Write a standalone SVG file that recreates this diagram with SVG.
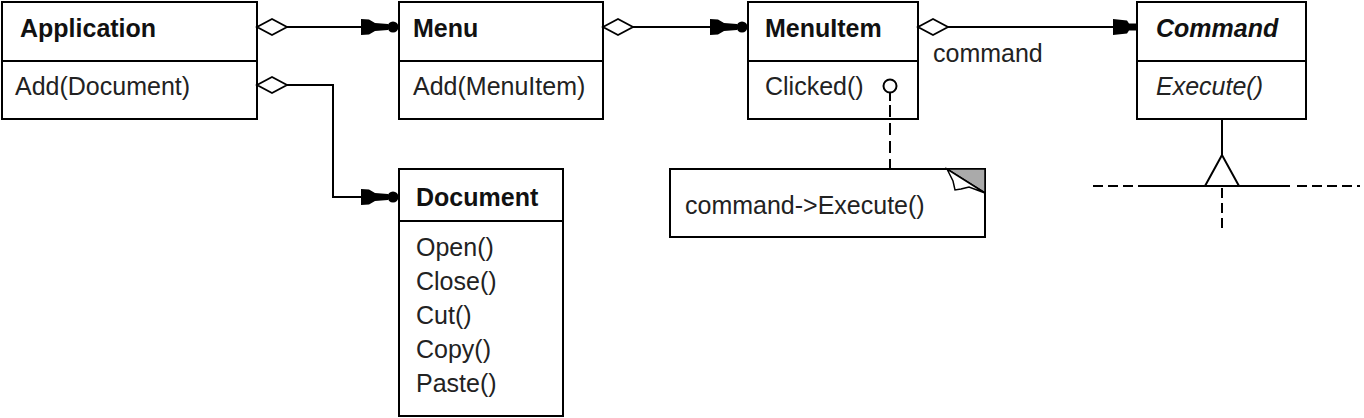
<svg xmlns="http://www.w3.org/2000/svg" xmlns:xlink="http://www.w3.org/1999/xlink" width="1364" height="418" viewBox="0 0 1364 418">
<style>
.box{fill:#fff;stroke:#000;stroke-width:2}
.div{stroke:#000;stroke-width:2}
.t{font-family:"Liberation Sans",Arial,sans-serif;font-size:25px;fill:#222}
.b{font-weight:bold;fill:#111}
.i{font-style:italic}
.ln{fill:none;stroke:#000;stroke-width:2}
.dash{fill:none;stroke:#000;stroke-width:2;stroke-dasharray:10,5}
.dia{fill:#fff;stroke:#000;stroke-width:1.8}
</style>
<defs>
<path id="dia" class="dia" d="M0,0 L15,-8 L30,0 L15,8 Z"/>
<g id="arrowDot">
<path d="M-38,-8 L-30,-7.5 L-24,-4 L-11,-3 L-11,3 L-24,4 L-30,7.5 L-38,8 Z" fill="#000"/>
<circle cx="-6" cy="0" r="5.5" fill="#000"/>
</g>
<path id="arrow" d="M-24,-8 L-10,-6.5 L-8,-3.5 L0,-3.5 L0,3.5 L-8,3.5 L-10,6.5 L-24,8 Z" fill="#000"/>
</defs>
<rect width="1364" height="418" fill="#fff"/>

<g id="Application">
<rect class="box" x="2" y="2" width="255" height="117"/>
<line class="div" x1="2" y1="61" x2="257" y2="61"/>
<text class="t b" x="20" y="37">Application</text>
<text class="t" x="15" y="95">Add(Document)</text>
</g>

<g id="Menu">
<rect class="box" x="399" y="2" width="204" height="117"/>
<line class="div" x1="399" y1="61" x2="603" y2="61"/>
<text class="t b" x="413" y="37">Menu</text>
<text class="t" x="413" y="95">Add(MenuItem)</text>
</g>

<g id="MenuItem">
<rect class="box" x="748" y="2" width="170" height="117"/>
<line class="div" x1="748" y1="61" x2="918" y2="61"/>
<text class="t b" x="765" y="37">MenuItem</text>
<text class="t" x="765" y="95">Clicked()</text>
</g>

<g id="Command">
<rect class="box" x="1137" y="2" width="169" height="117"/>
<line class="div" x1="1137" y1="61" x2="1306" y2="61"/>
<text class="t b i" x="1156" y="37">Command</text>
<text class="t i" x="1156" y="95">Execute()</text>
</g>

<g id="Document">
<rect class="box" x="399" y="169" width="164" height="247"/>
<line class="div" x1="399" y1="221" x2="563" y2="221"/>
<text class="t b" x="416" y="206">Document</text>
<text class="t" x="416" y="256">Open()</text>
<text class="t" x="416" y="290">Close()</text>
<text class="t" x="416" y="324">Cut()</text>
<text class="t" x="416" y="358">Copy()</text>
<text class="t" x="416" y="392">Paste()</text>
</g>

<g id="Note">
<rect class="box" x="670" y="169" width="315" height="68"/>
<polygon points="947,169 985,169 985,193" fill="#aaa" stroke="#000" stroke-width="1.5"/>
<polygon points="947,169 953,181 955,190 961,189 969,187 985,193" fill="#fff" stroke="#000" stroke-width="1.5"/>
<text class="t" x="685" y="214">command-&gt;Execute()</text>
</g>

<g id="connectors">
<line class="ln" x1="287" y1="27" x2="362" y2="27"/>
<use xlink:href="#dia" x="257" y="27"/>
<use xlink:href="#arrowDot" x="399" y="27"/>

<polyline class="ln" points="287,85 333,85 333,197 362,197"/>
<use xlink:href="#dia" x="257" y="85"/>
<use xlink:href="#arrowDot" x="399" y="197"/>

<line class="ln" x1="633" y1="27" x2="712" y2="27"/>
<use xlink:href="#dia" x="603" y="27"/>
<use xlink:href="#arrowDot" x="748" y="27"/>

<line class="ln" x1="948" y1="27" x2="1116" y2="27"/>
<use xlink:href="#dia" x="918" y="27"/>
<use xlink:href="#arrow" x="1137" y="27"/>
<text class="t" x="933" y="62">command</text>

<circle cx="890" cy="86" r="6.5" fill="#fff" stroke="#000" stroke-width="2"/>
<line class="ln" x1="890" y1="92.5" x2="890" y2="101"/>
<line x1="890" y1="105" x2="890" y2="169" stroke="#000" stroke-width="2" stroke-dasharray="12,6"/>

<line class="ln" x1="1222" y1="119" x2="1222" y2="155"/>
<polygon points="1222,155 1205,186 1239,186" fill="#fff" stroke="#000" stroke-width="2"/>
<line class="ln" x1="1143" y1="186" x2="1290" y2="186"/>
<line class="dash" x1="1093" y1="186" x2="1143" y2="186"/>
<line class="dash" x1="1297" y1="186" x2="1360" y2="186"/>
<line class="dash" x1="1222" y1="188" x2="1222" y2="232"/>
</g>
</svg>
